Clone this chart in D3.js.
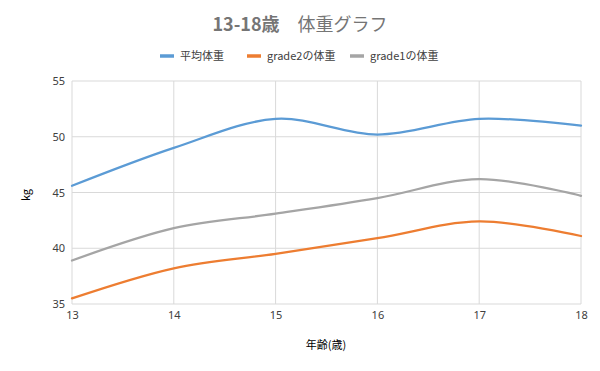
<!DOCTYPE html>
<html>
<head>
<meta charset="utf-8">
<script src="https://cdn.jsdelivr.net/npm/d3@7"></script>
<style>
  body { margin: 0; background: #fff; }
  text { font-family: "Noto Sans CJK JP", "Noto Sans", sans-serif; }
</style>
</head>
<body>
<div id="chart"></div>
<script>
// data
const ages = [13, 14, 15, 16, 17, 18];
const avgWeight = [45.6, 49.0, 51.6, 50.2, 51.6, 51.0];
const grade2Weight = [35.5, 38.2, 39.5, 40.9, 42.4, 41.1];
const grade1Weight = [38.9, 41.8, 43.1, 44.5, 46.2, 44.7];
const yTicks = [35, 40, 45, 50, 55];
const seriesNames = ["平均体重", "grade2の体重", "grade1の体重"];
const seriesColors = ["#5B9BD5", "#ED7D31", "#A5A5A5"];

const W = 600, H = 371;
const margin = { top: 81, left: 72, right: 19, bottom: 67 };

const svg = d3.select('#chart')
  .append('svg')
  .attr('width', W)
  .attr('height', H);

// scales
const x = d3.scaleLinear().domain([13, 18]).range([margin.left, W - margin.right]);
const y = d3.scaleLinear().domain([35, 55]).range([H - margin.bottom, margin.top]);

// grid lines
svg.append("g")
  .selectAll("line")
  .data(yTicks)
  .join("line")
  .attr("x1", x(13)).attr("x2", x(18))
  .attr("y1", d => y(d)).attr("y2", d => y(d))
  .attr("stroke", "#d9d9d9").attr("stroke-width", 1);

svg.append("g")
  .selectAll("line")
  .data(ages)
  .join("line")
  .attr("x1", d => x(d)).attr("x2", d => x(d))
  .attr("y1", y(35)).attr("y2", y(55))
  .attr("stroke", "#d9d9d9").attr("stroke-width", 1);

// axes (labels only)
const yAxis = svg.append("g")
  .attr("transform", `translate(${margin.left},0)`)
  .call(d3.axisLeft(y).tickValues(yTicks).tickSize(0).tickPadding(7));
yAxis.select(".domain").remove();
yAxis.selectAll("text").attr("font-size", 11).attr("fill", "#404040")
  .style("font-family", "'Noto Sans', sans-serif");

const xAxis = svg.append("g")
  .attr("transform", `translate(0,${y(35)})`)
  .call(d3.axisBottom(x).tickValues(ages).tickFormat(d3.format("d")).tickSize(0).tickPadding(7));
xAxis.select(".domain").remove();
xAxis.selectAll("text").attr("font-size", 11).attr("fill", "#404040")
  .style("font-family", "'Noto Sans', sans-serif");

// lines
const allSeries = [avgWeight, grade2Weight, grade1Weight];
const line = d3.line()
  .x((d, i) => x(ages[i]))
  .y(d => y(d))
  .curve(d3.curveCatmullRom.alpha(0));

svg.append("g")
  .selectAll("path")
  .data(allSeries)
  .join("path")
  .attr("d", line)
  .attr("fill", "none")
  .attr("stroke", (d, i) => seriesColors[i])
  .attr("stroke-width", 2.25)
  .attr("stroke-linecap", "round");

// title: latin part bold, kana/kanji part regular
const title = svg.append("text")
  .attr("x", 300).attr("y", 31)
  .attr("text-anchor", "middle")
  .attr("font-size", 18)
  .attr("fill", "#757575");
title.append("tspan").attr("font-weight", "bold").text("13-18歳");
title.append("tspan").text("　体重グラフ");

// legend
const legendX = [160, 247, 350];
const legend = svg.append("g")
  .selectAll("g")
  .data(seriesNames)
  .join("g")
  .attr("transform", (d, i) => `translate(${legendX[i]},56)`);

legend.append("line")
  .attr("x1", 0).attr("x2", 14)
  .attr("stroke", (d, i) => seriesColors[i])
  .attr("stroke-width", 3.5);

legend.append("text")
  .attr("x", 20).attr("y", 4)
  .attr("font-size", 11)
  .attr("fill", "#404040")
  .text(d => d);

// axis titles
svg.append("text")
  .attr("x", 326).attr("y", 349)
  .attr("text-anchor", "middle")
  .attr("font-size", 11)
  .attr("fill", "#000")
  .text("年齢(歳)");

svg.append("text")
  .attr("transform", "translate(30,195) rotate(-90)")
  .attr("text-anchor", "middle")
  .attr("font-size", 11)
  .attr("fill", "#000")
  .text("kg");
</script>
</body>
</html>
